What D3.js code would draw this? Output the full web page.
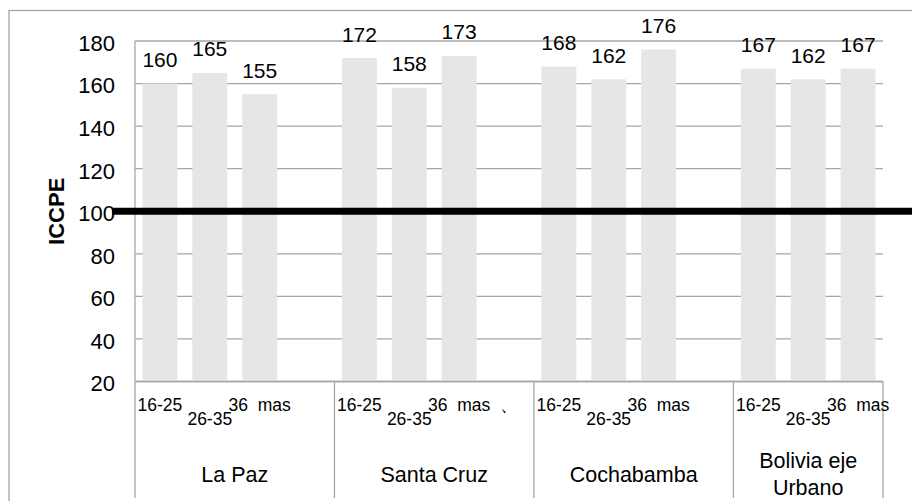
<!DOCTYPE html>
<html>
<head>
<meta charset="utf-8">
<script src="https://cdn.jsdelivr.net/npm/d3@7"></script>
<style>
  html, body { margin: 0; padding: 0; background: #fff; }
  svg { display: block; font-family: "Liberation Sans", Arial, sans-serif; }
</style>
</head>
<body>
<svg id="chart" width="912" height="501"></svg>
<script>
// ---- data ----
const categories = ["La Paz", "Santa Cruz", "Cochabamba", "Bolivia eje Urbano"];
const categoryLines = [["La Paz"], ["Santa Cruz"], ["Cochabamba"], ["Bolivia eje", "Urbano"]];
const ageGroups = ["16-25", "26-35", "36\u00a0\u00a0mas"];
const valuesLaPaz = [160, 165, 155];
const valuesSantaCruz = [172, 158, 173];
const valuesCochabamba = [168, 162, 176];
const valuesBolivia = [167, 162, 167];
const gapLabels = ["", "\u3001", "", null]; // label in the empty slot after each group (null = no slot)
const yTicks = [20, 40, 60, 80, 100, 120, 140, 160, 180];
const referenceValue = 100;
const yTitle = "ICCPE";

const seriesByCategory = [valuesLaPaz, valuesSantaCruz, valuesCochabamba, valuesBolivia];

// ---- build slots ----
const slots = [];
categories.forEach((c, ci) => {
  ageGroups.forEach((g, gi) => {
    slots.push({ key: c + "|" + gi, cat: ci, label: g, value: seriesByCategory[ci][gi], gi });
  });
  if (gapLabels[ci] !== null) {
    slots.push({ key: c + "|gap", cat: ci, label: gapLabels[ci], value: null, gi: -1 });
  }
});

// ---- layout ----
const svg = d3.select("#chart");
const W = 912, H = 501;
const plot = { left: 135, right: 883, top: 41, bottom: 381.5 };

const x = d3.scaleBand()
  .domain(slots.map(d => d.key))
  .range([plot.left, plot.right])
  .paddingInner(0.3)
  .paddingOuter(0.15);
const step = x.step();

const y = d3.scaleLinear().domain([20, 180]).range([plot.bottom, plot.top]);

const gridColor = "#a6a6a6";

// outer border
svg.append("rect")
  .attr("x", 9).attr("y", 10.5)
  .attr("width", W + 10).attr("height", H + 10)
  .attr("fill", "none").attr("stroke", gridColor).attr("stroke-width", 1.3);

// gridlines
svg.append("g").selectAll("line").data(yTicks).join("line")
  .attr("x1", plot.left).attr("x2", plot.right)
  .attr("y1", d => y(d)).attr("y2", d => y(d))
  .attr("stroke", gridColor).attr("stroke-width", 1.3);

// y axis line
svg.append("line")
  .attr("x1", plot.left).attr("x2", plot.left)
  .attr("y1", plot.top).attr("y2", plot.bottom)
  .attr("stroke", gridColor).attr("stroke-width", 1.3);

// y tick labels
svg.append("g").selectAll("text").data(yTicks).join("text")
  .attr("x", 115).attr("y", d => y(d)).attr("dy", "0.45em")
  .attr("text-anchor", "end")
  .attr("font-size", 22).attr("fill", "#000")
  .text(d => d);

// y title
svg.append("text")
  .attr("transform", `translate(64,${y(100)}) rotate(-90)`)
  .attr("text-anchor", "middle")
  .attr("font-size", 22).attr("font-weight", "bold")
  .text(yTitle);

// bars
const barSlots = slots.filter(d => d.value !== null);
svg.append("g").selectAll("rect").data(barSlots).join("rect")
  .attr("x", d => x(d.key))
  .attr("width", x.bandwidth())
  .attr("y", d => y(d.value))
  .attr("height", d => y(20) - y(d.value))
  .attr("fill", "#e5e6e7");

// value labels
svg.append("g").selectAll("text").data(barSlots).join("text")
  .attr("x", d => x(d.key) + x.bandwidth() / 2)
  .attr("y", d => y(d.value) - 16.5)
  .attr("text-anchor", "middle")
  .attr("font-size", 21).attr("fill", "#000")
  .text(d => d.value);

// reference line at 100
svg.append("line")
  .attr("x1", 112).attr("x2", W)
  .attr("y1", y(referenceValue)).attr("y2", y(referenceValue))
  .attr("stroke", "#000").attr("stroke-width", 7);

// x axis line
svg.append("line")
  .attr("x1", plot.left).attr("x2", plot.right)
  .attr("y1", plot.bottom).attr("y2", plot.bottom)
  .attr("stroke", gridColor).attr("stroke-width", 1.3);

// category dividers
const catStarts = categories.map((c, ci) => x(slots.find(s => s.cat === ci).key) - x.paddingOuter() * step);
const dividers = catStarts.concat([plot.right]);
svg.append("g").selectAll("line").data(dividers).join("line")
  .attr("x1", d => d).attr("x2", d => d)
  .attr("y1", plot.bottom).attr("y2", 498)
  .attr("stroke", gridColor).attr("stroke-width", 1.3);

// age-group tick labels (staggered)
svg.append("g").selectAll("text").data(slots.filter(d => d.label)).join("text")
  .attr("x", d => x(d.key) + x.bandwidth() / 2)
  .attr("y", d => d.gi === 1 ? 424.5 : 411)
  .attr("text-anchor", "middle")
  .attr("font-size", 17.5).attr("fill", "#000")
  .text(d => d.label);

// category labels
categories.forEach((c, ci) => {
  const x0 = dividers[ci], x1 = dividers[ci + 1];
  const lines = categoryLines[ci];
  const t = svg.append("text")
    .attr("text-anchor", "middle")
    .attr("font-size", 21.5).attr("fill", "#000");
  lines.forEach((ln, li) => {
    const base = lines.length === 1 ? 482 : 468 + li * 27;
    t.append("tspan").attr("x", (x0 + x1) / 2).attr("y", base).text(ln);
  });
});
</script>
</body>
</html>
